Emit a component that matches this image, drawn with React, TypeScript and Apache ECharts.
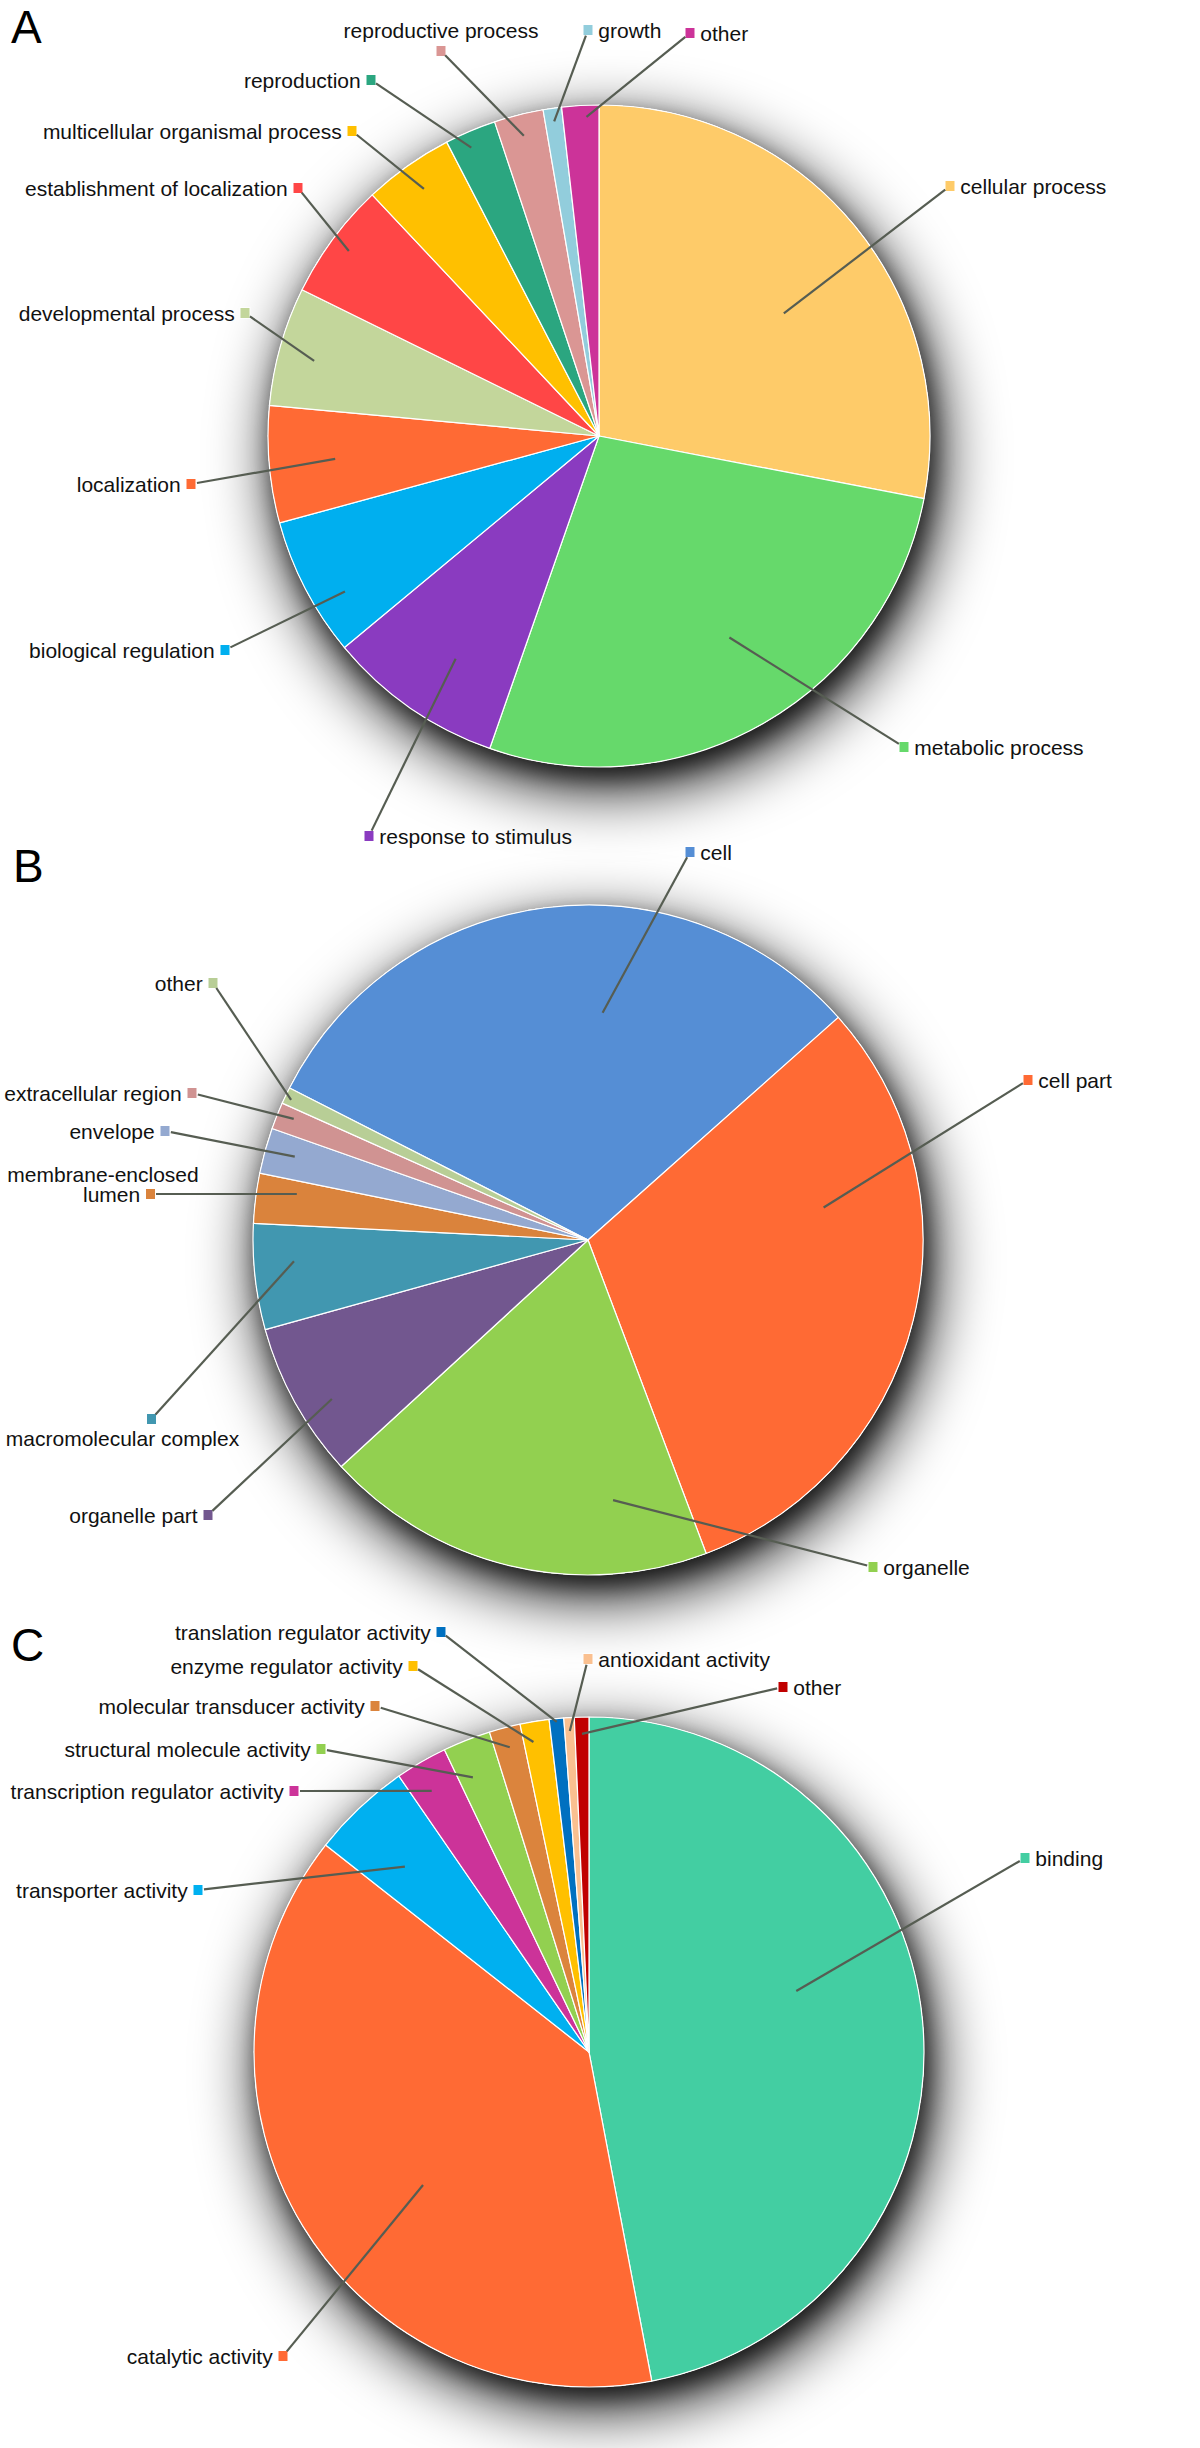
import React, { useEffect, useRef } from 'react';
import * as echarts from 'echarts';

const FONT = '"Liberation Sans", Arial, sans-serif';

// ---------- Data ----------
const catA = ['cellular process', 'metabolic process', 'response to stimulus', 'biological regulation', 'localization', 'developmental process', 'establishment of localization', 'multicellular organismal process', 'reproduction', 'reproductive process', 'growth', 'other'];
const valA = [28.0, 27.3, 8.6, 6.8, 5.7, 5.8, 5.7, 4.4, 2.5, 2.4, 0.9, 1.8];
const colA = ['#FECB69', '#66D96B', '#8A3BC0', '#00AFEF', '#FF6A34', '#C3D69B', '#FF4646', '#FFC000', '#2BA680', '#DA9694', '#92CDDC', '#CC3399'];

const catB = ['cell', 'cell part', 'organelle', 'organelle part', 'macromolecular complex', 'membrane-enclosed lumen', 'envelope', 'extracellular region', 'other'];
const valB = [30.9, 30.8, 18.9, 7.5, 5.1, 2.4, 2.2, 1.3, 0.8];
const colB = ['#558ED5', '#FF6A34', '#92D050', '#72578F', '#4197B0', '#DA833C', '#94A9D0', '#D09392', '#B8CE96'];

const catC = ['binding', 'catalytic activity', 'transporter activity', 'transcription regulator activity', 'structural molecule activity', 'molecular transducer activity', 'enzyme regulator activity', 'translation regulator activity', 'antioxidant activity', 'other'];
const valC = [47.0, 38.6, 4.8, 2.5, 2.3, 1.5, 1.4, 0.7, 0.5, 0.7];
const colC = ['#43CEA2', '#FF6A34', '#00B0F0', '#CC3399', '#92D050', '#DB843D', '#FFC000', '#0070C0', '#FAC090', '#C00000'];

const panelLetters = ['A', 'B', 'C'];

// ---------- Layout (label placement, not data) ----------
// [type, markerX, markerY, leaderRadiusFraction, leaderAngleOffsetDeg]
type Lay = [string, number, number, number, number];
const layA: Lay[] = [
  ['R', 950, 186, 0.67, 6],
  ['R', 904, 747, 0.725, -3],
  ['R', 369, 836, 0.8, -2],
  ['L', 225, 650, 0.9, -4],
  ['L', 191, 484, 0.8, 0],
  ['L', 245, 313, 0.89, -1],
  ['L', 298, 188, 0.94, 0],
  ['L', 352, 131, 0.915, 0],
  ['L', 371, 80, 0.953, -1],
  ['TB', 441, 51, 0.935, 0],
  ['R', 588, 30, 0.96, 0],
  ['R', 690, 33, 0.965, 1],
];
const layB: Lay[] = [
  ['R', 690, 852, 0.68, 11],
  ['R', 1028, 1080, 0.71, -21.7],
  ['R', 873, 1567, 0.78, -18.9],
  ['L', 208, 1515, 0.9, -2.8],
  ['BT', 151.5, 1419, 0.88, 2.2],
  ['ML', 150, 1194, 0.88, 1.8],
  ['L', 165, 1131, 0.91, 0.4],
  ['L', 192, 1093, 0.95, 0.6],
  ['L', 213, 983, 0.98, -0.3],
];
const layC: Lay[] = [
  ['R', 1025, 1858, 0.645, -11],
  ['L', 283, 2356, 0.635, -7.4],
  ['L', 198, 1890, 0.78, -1.6],
  ['L', 294, 1791, 0.91, -1],
  ['L', 321, 1749, 0.89, -1.5],
  ['L', 375, 1706, 0.94, 0],
  ['L', 413, 1666, 0.94, -0.8],
  ['L', 441, 1632, 0.99, 0],
  ['R', 588, 1659, 0.96, 0],
  ['R', 783, 1687, 0.95, 0],
];

// pie geometry: center x, center y, radius, first slice angle (clockwise from 12 o'clock)
type Geo = { cx: number; cy: number; r: number; start: number };
const geoA: Geo = { cx: 599, cy: 436, r: 331, start: 0 };
const geoB: Geo = { cx: 588, cy: 1240, r: 335, start: 297 };
const geoC: Geo = { cx: 589, cy: 2052, r: 335, start: 0 };

const letterPos = [
  [11, 27],
  [13, 866],
  [11, 1645],
];

const LINE_COLOR = '#565D52';
const TEXT_COLOR = '#111111';

function midAngles(vals: number[], start: number) {
  const tot = vals.reduce((a, b) => a + b, 0);
  let c = 0;
  return vals.map((v) => {
    const m = start + ((c + v / 2) / tot) * 360;
    c += v;
    return m;
  });
}

function richFor(color: string) {
  const base = { fontSize: 21, fontFamily: FONT, color: TEXT_COLOR };
  return {
    t: { ...base, lineHeight: 24 },
    t2: { ...base, lineHeight: 31 },
    tb: { ...base, lineHeight: 28 },
    tm: { ...base, lineHeight: 20 },
    s: {
      width: 9,
      height: 10,
      lineHeight: 10,
      backgroundColor: color,
      borderColor: 'rgba(255,255,255,0.7)',
      borderWidth: 1,
    },
    g: { width: 58, height: 10, lineHeight: 10 },
    g2: { width: 32, height: 10, lineHeight: 10 },
  };
}

function fmt(type: string, name: string) {
  switch (type) {
    case 'L':
      return `{t|${name} }{s|}`;
    case 'R':
      return `{s|}{t| ${name}}`;
    case 'TB':
      return `{t2|${name}}\n{s|}`;
    case 'BT':
      return `{g|}{s|}\n{tb|${name}}`;
    case 'ML': {
      const k = name.lastIndexOf(' ');
      return `{tm|${name.slice(0, k)}}\n{g2|}{tm|${name.slice(k + 1)} }{s|}`;
    }
    default:
      return name;
  }
}

function leader(lay: Lay, mid: number, geo: Geo) {
  const [, sx, sy, rf, da] = lay;
  const ang = ((mid + da) * Math.PI) / 180;
  const ix = geo.cx + geo.r * rf * Math.sin(ang);
  const iy = geo.cy - geo.r * rf * Math.cos(ang);
  const dx = ix - sx;
  const dy = iy - sy;
  const d = Math.hypot(dx, dy) || 1;
  return { x1: ix, y1: iy, x2: sx + (dx / d) * 6, y2: sy + (dy / d) * 6 };
}

function buildLeaders(vals: number[], lay: Lay[], geo: Geo) {
  const mids = midAngles(vals, geo.start);
  return vals.map((_, i) => ({
    type: 'line',
    silent: true,
    z: 100,
    shape: leader(lay[i], mids[i], geo),
    style: { stroke: LINE_COLOR, lineWidth: 2.2 },
  }));
}

function shadowSeries(geo: Geo, blur: number, color: string, ox: number, oy: number) {
  return {
    type: 'pie',
    silent: true,
    center: [geo.cx, geo.cy],
    radius: [0, geo.r],
    startAngle: 90,
    label: { show: false },
    labelLine: { show: false },
    emphasis: { disabled: true },
    itemStyle: {
      color: '#ffffff',
      shadowBlur: blur,
      shadowColor: color,
      shadowOffsetX: ox,
      shadowOffsetY: oy,
    },
    data: [{ name: 'shadow', value: 1 }],
  };
}

function buildSeries(cats: string[], vals: number[], cols: string[], lay: Lay[], geo: Geo) {
  const pie = {
    type: 'pie',
    center: [geo.cx, geo.cy],
    radius: [0, geo.r],
    startAngle: 90 - geo.start,
    clockwise: true,
    avoidLabelOverlap: false,
    itemStyle: { borderColor: '#ffffff', borderWidth: 1.2 },
    label: { show: true, position: 'outside', fontSize: 21, fontFamily: FONT, color: TEXT_COLOR },
    labelLine: { show: false },
    emphasis: { disabled: true },
    data: cats.map((name, i) => ({
      name,
      value: vals[i],
      itemStyle: { color: cols[i] },
      label: { formatter: fmt(lay[i][0], name), rich: richFor(cols[i]) },
    })),
    labelLayout: (p: any) => {
      const i = p.dataIndex;
      const [type, sx, sy] = lay[i];
      let x = sx;
      let y = sy;
      let align = 'left';
      let verticalAlign = 'middle';
      if (type === 'L') {
        x = sx + 4.5;
        align = 'right';
      } else if (type === 'R') {
        x = sx - 4.5;
        align = 'left';
      } else if (type === 'TB') {
        x = sx;
        y = sy + 5;
        align = 'center';
        verticalAlign = 'bottom';
      } else if (type === 'BT') {
        x = sx - 29;
        y = sy - 5;
        align = 'center';
        verticalAlign = 'top';
      } else if (type === 'ML') {
        x = sx - 47;
        y = sy + 10;
        align = 'center';
        verticalAlign = 'bottom';
      }
      return { x, y, align, verticalAlign };
    },
  };
  return [
    shadowSeries(geo, 64, 'rgba(0,0,0,1)', 8, 20),
    shadowSeries(geo, 22, 'rgba(0,0,0,0.55)', 5, 10),
    pie,
  ];
}

export default function App() {
  const ref = useRef<HTMLDivElement>(null);
  useEffect(() => {
    if (!ref.current) return;
    const chart = echarts.init(ref.current, undefined, { renderer: 'svg' });
    const option: any = {
      animation: false,
      backgroundColor: '#ffffff',
      graphic: [
        ...panelLetters.map((t, i) => ({
          type: 'text',
          x: letterPos[i][0],
          y: letterPos[i][1],
          style: {
            text: t,
            fontSize: 46,
            lineHeight: 44,
            fontFamily: FONT,
            fill: '#000000',
            align: 'left',
            verticalAlign: 'middle',
          },
        })),
        ...buildLeaders(valA, layA, geoA),
        ...buildLeaders(valB, layB, geoB),
        ...buildLeaders(valC, layC, geoC),
      ],
      series: [
        ...buildSeries(catA, valA, colA, layA, geoA),
        ...buildSeries(catB, valB, colB, layB, geoB),
        ...buildSeries(catC, valC, colC, layC, geoC),
      ],
    };
    chart.setOption(option);
    return () => chart.dispose();
  }, []);
  return <div ref={ref} style={{ position: 'absolute', left: 0, top: 0, width: 1200, height: 2448 }} />;
}
